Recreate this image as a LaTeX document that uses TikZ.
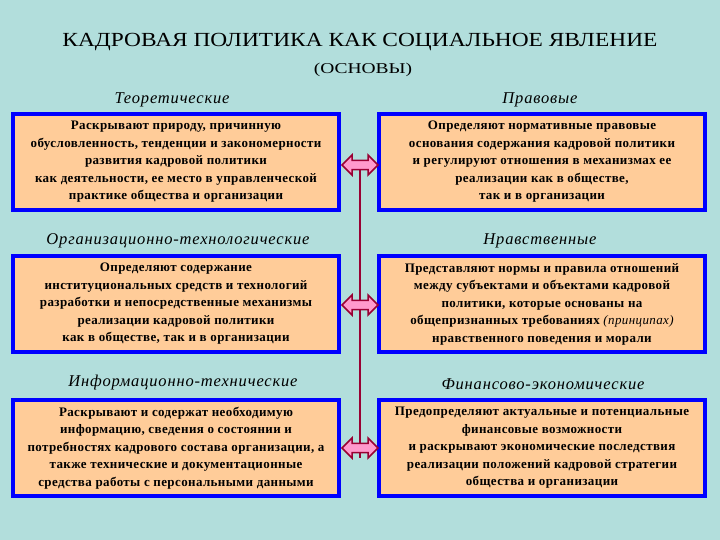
\documentclass[tikz,border=0pt]{standalone}
\usepackage{fontspec}
\setmainfont{Liberation Serif}
\usetikzlibrary{shapes.arrows}
\definecolor{bg}{HTML}{B2DEDC}
\definecolor{peach}{HTML}{FFCC99}
\definecolor{frameblue}{HTML}{0000FF}
\definecolor{dred}{HTML}{990033}
\definecolor{pinkf}{HTML}{FF99CC}
\tikzset{
  box/.style={draw=frameblue, line width=3.5pt, fill=peach, minimum width=326pt, minimum height=96pt, inner sep=1pt,
    align=center, font=\fontsize{13}{17.5}\selectfont\bfseries\addfontfeature{LetterSpace=3}},
  hdr/.style={font=\fontsize{16.5}{18}\selectfont\itshape\addfontfeature{LetterSpace=5}, inner sep=0pt},
  darr/.style={double arrow, draw=dred, line width=1.5pt, fill=pinkf, minimum width=20pt, double arrow head extend=2pt, minimum height=36pt, inner sep=1pt}
}
\begin{document}
\begin{tikzpicture}[x=1pt,y=-1pt]
\fill[bg] (0,0) rectangle (720,540);
\node[font=\fontsize{20}{22}\selectfont] (title) at (360,42) {\scalebox{1.17}[1]{КАДРОВАЯ ПОЛИТИКА КАК СОЦИАЛЬНОЕ ЯВЛЕНИЕ}};
\node[font=\fontsize{15}{17}\selectfont] (sub) at (363,70) {\scalebox{1.3}[1]{(ОСНОВЫ)}};
\node[hdr] (h1) at (172,100) {Теоретические};
\node[hdr] (h2) at (540,100) {Правовые};
\node[hdr] (h3) at (178,241) {Организационно-технологические};
\node[hdr] (h4) at (540,241) {Нравственные};
\node[hdr] (h5) at (183,383) {Информационно-технические};
\node[hdr] (h6) at (543,384) {Финансово-экономические};
\coordinate (ltop) at (360,165);
\coordinate (lbot) at (360,458);
\draw[dred, line width=2.5pt] (ltop) -- (lbot);
\node[box] (b1) at (176,162) {Раскрывают природу, причинную\\обусловленность, тенденции и закономерности\\развития кадровой политики\\как деятельности, ее место в управленческой\\практике общества и организации};
\node[box] (b2) at (542,162) {Определяют нормативные правовые\\основания содержания кадровой политики\\и регулируют отношения в механизмах ее\\реализации как в обществе,\\так и в организации};
\node[box] (b3) at (176,304) {Определяют содержание\\институциональных средств и технологий\\разработки и непосредственные механизмы\\реализации кадровой политики\\как в обществе, так и в организации};
\node[box] (b4) at (542,304) {Представляют нормы и правила отношений\\между субъектами и объектами кадровой\\политики, которые основаны на\\общепризнанных требованиях {\mdseries\itshape(принципах)}\\нравственного поведения и морали};
\node[box] (b5) at (176,448) {Раскрывают и содержат необходимую\\информацию, сведения о состоянии и\\потребностях кадрового состава организации, а\\также технические и документационные\\средства работы с персональными данными};
\node[box] (b6) at (542,448) {Предопределяют актуальные и потенциальные\\финансовые возможности\\и раскрывают экономические последствия\\реализации положений кадровой стратегии\\общества и организации};
\node[darr] (a1) at (360,165) {};
\node[darr] (a2) at (360,305) {};
\node[darr] (a3) at (360,448) {};
\end{tikzpicture}
\end{document}
